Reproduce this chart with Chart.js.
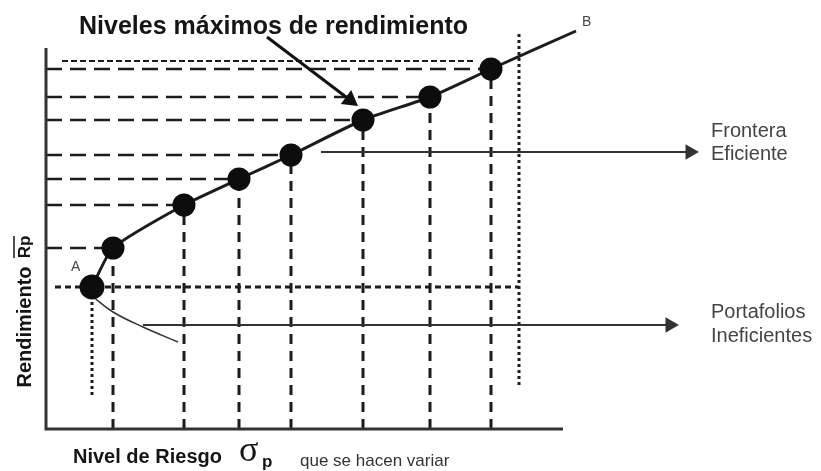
<!DOCTYPE html>
<html>
<head>
<meta charset="utf-8">
<script src="https://cdn.jsdelivr.net/npm/chart.js@4/dist/chart.umd.min.js"></script>
<style>
  html, body { margin: 0; padding: 0; background: #fff; }
  #wrap { width: 821px; height: 471px; position: relative; }
</style>
</head>
<body>
<div id="wrap"><canvas id="chart"></canvas></div>
<script>
// Portafolios sobre la frontera (A primero): riesgo y rendimiento
const riesgo = [4.6, 6.7, 13.8, 19.3, 24.5, 31.7, 38.4, 44.5];
const rendimiento = [14.2, 18.1, 22.4, 25.0, 27.4, 30.9, 33.2, 36.0];
// Extremo B de la frontera
const puntoB = [53.0, 39.8];
// Rama inferior (portafolios ineficientes)
const riesgoIneficiente = [4.6, 6.7, 9.7, 13.2];
const rendimientoIneficiente = [13.3, 11.7, 10.2, 8.7];
// Lineas guia punteadas
const rendimientoMaximo = 36.8;
const riesgoLimite = 47.3;
// Ejes
const ejeY = 38.1;
const ejeX = 51.7;

const dark = '#1c1c1c';
const pts = (xs, ys) => xs.map((x, i) => ({ x, y: ys[i] }));

function line(data, opts) {
  return Object.assign({
    data,
    showLine: true,
    borderColor: dark,
    borderWidth: 2.5,
    pointRadius: 0,
    fill: false,
    clip: false,
    order: 5
  }, opts);
}

const datasets = [];

// Frontera eficiente A -> B
const frontier = pts(riesgo, rendimiento).concat([{ x: puntoB[0], y: puntoB[1] }]);
datasets.push(line(frontier, {
  borderWidth: 3,
  tension: 0.2,
  pointRadius: frontier.map((p, i) => i === 0 ? 11 : (i === frontier.length - 1 ? 0 : 10)),
  pointBackgroundColor: '#0d0d0d',
  pointBorderColor: '#0d0d0d',
  order: 0
}));

// Rama ineficiente
datasets.push(line(pts(riesgoIneficiente, rendimientoIneficiente), {
  borderWidth: 1.5, borderColor: '#333', tension: 0.4, order: 1
}));

// Ejes
datasets.push(line([{ x: 0, y: ejeY }, { x: 0, y: 0 }, { x: ejeX, y: 0 }], {
  borderWidth: 3, borderColor: '#333', order: 1
}));

// Lineas horizontales y verticales discontinuas a cada portafolio
riesgo.slice(1).forEach((x, i) => {
  const y = rendimiento[i + 1];
  datasets.push(line([{ x: 0, y }, { x, y }], { borderDash: [16, 8] }));
  datasets.push(line([{ x, y: 0 }, { x, y }], { borderWidth: 3, borderDash: [10, 7] }));
});

// Linea superior punteada (rendimiento maximo)
datasets.push(line([{ x: 1.6, y: rendimientoMaximo }, { x: 42.7, y: rendimientoMaximo }], {
  borderWidth: 2, borderDash: [6, 3]
}));
// Horizontal punteada al nivel de A
datasets.push(line([{ x: 0.9, y: rendimiento[0] }, { x: riesgoLimite, y: rendimiento[0] }], {
  borderWidth: 3, borderDash: [6, 4]
}));
// Vertical punteada bajo A
datasets.push(line([{ x: riesgo[0], y: 3.4 }, { x: riesgo[0], y: rendimiento[0] }], {
  borderWidth: 3, borderDash: [3, 3]
}));
// Vertical punteada limite
datasets.push(line([{ x: riesgoLimite, y: 4.4 }, { x: riesgoLimite, y: 39.6 }], {
  borderWidth: 3, borderDash: [3, 3]
}));

// Flechas
function arrow(x0, y0, x1, y1, width, color, rot) {
  datasets.push(line([{ x: x0, y: y0 }, { x: x1, y: y1 }], {
    borderWidth: width,
    borderColor: color,
    pointRadius: [0, 7],
    pointStyle: 'triangle',
    rotation: [0, rot],
    pointBackgroundColor: color,
    pointBorderColor: color,
    order: 2
  }));
}
arrow(27.5, 27.7, 64.4, 27.7, 2, '#333', 90);   // Frontera Eficiente
arrow(9.7, 10.4, 62.4, 10.4, 2, '#333', 90);    // Portafolios Ineficientes
arrow(22.1, 39.2, 30.4, 32.9, 3, '#111', 127);  // Niveles maximos

const textPlugin = {
  id: 'texts',
  afterDraw(chart) {
    const ctx = chart.ctx;
    ctx.save();
    ctx.textBaseline = 'middle';
    ctx.fillStyle = '#151515';

    ctx.font = 'bold 25px "Liberation Sans", Arial, sans-serif';
    ctx.textAlign = 'left';
    ctx.fillText('Niveles máximos de rendimiento', 79, 27);

    ctx.font = 'bold 20px "Liberation Sans", Arial, sans-serif';
    ctx.fillText('Nivel de Riesgo', 73, 457);
    ctx.font = '36px "Liberation Serif", serif';
    ctx.fillText('σ', 239, 452);
    ctx.font = 'bold 17px "Liberation Sans", Arial, sans-serif';
    ctx.fillText('p', 262, 462);
    ctx.font = '17px "Liberation Sans", Arial, sans-serif';
    ctx.fillStyle = '#333';
    ctx.fillText('que se hacen variar', 300, 461);

    ctx.fillStyle = '#444';
    ctx.font = '20px "Liberation Sans", Arial, sans-serif';
    ctx.fillText('Frontera', 711, 131);
    ctx.fillText('Eficiente', 711, 154);
    ctx.fillText('Portafolios', 711, 312);
    ctx.fillText('Ineficientes', 711, 336);

    ctx.font = '14px "Liberation Sans", Arial, sans-serif';
    ctx.fillText('A', 71, 267);
    ctx.fillText('B', 582, 22);

    // Eje vertical: Rendimiento y Rp
    ctx.fillStyle = '#151515';
    ctx.translate(25, 327);
    ctx.rotate(-Math.PI / 2);
    ctx.textAlign = 'center';
    ctx.font = 'bold 20px "Liberation Sans", Arial, sans-serif';
    ctx.fillText('Rendimiento', 0, 0);
    ctx.font = 'bold 17px "Liberation Sans", Arial, sans-serif';
    ctx.fillText('Rp', 80, 0);
    ctx.strokeStyle = '#151515';
    ctx.lineWidth = 1.5;
    ctx.beginPath();
    ctx.moveTo(69, -11);
    ctx.lineTo(91, -11);
    ctx.stroke();
    ctx.restore();
  }
};

new Chart(document.getElementById('chart'), {
  type: 'scatter',
  data: { datasets },
  options: {
    responsive: true,
    maintainAspectRatio: false,
    animation: false,
    layout: { padding: 0, autoPadding: false },
    plugins: {
      legend: { display: false },
      tooltip: { enabled: false },
      title: { display: false }
    },
    scales: {
      x: { type: 'linear', min: -4.6, max: 77.5, display: false },
      y: { type: 'linear', min: -4.2, max: 42.9, display: false }
    }
  },
  plugins: [textPlugin]
});
</script>
</body>
</html>
